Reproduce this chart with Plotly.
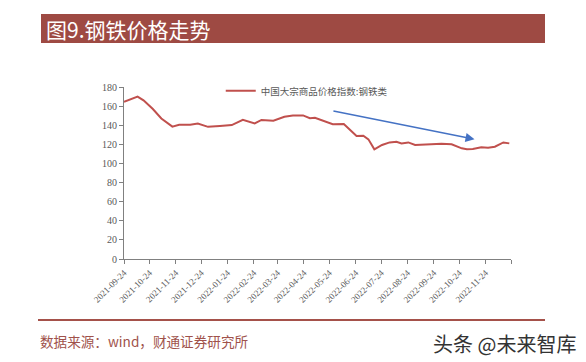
import plotly.graph_objects as go

dates = ["2021-09-24", "2021-10-10", "2021-10-17", "2021-10-28", "2021-11-07", "2021-11-20",
         "2021-11-28", "2021-12-11", "2021-12-20", "2022-01-01", "2022-01-15", "2022-01-29",
         "2022-02-11", "2022-02-25", "2022-03-05", "2022-03-19", "2022-04-01", "2022-04-11",
         "2022-04-23", "2022-05-01", "2022-05-07", "2022-05-19", "2022-05-28", "2022-06-10",
         "2022-06-25", "2022-07-03", "2022-07-09", "2022-07-16", "2022-07-25", "2022-08-03",
         "2022-08-11", "2022-08-17", "2022-08-25", "2022-09-02", "2022-09-11", "2022-09-21",
         "2022-10-03", "2022-10-15", "2022-10-27", "2022-11-02", "2022-11-09", "2022-11-19",
         "2022-11-27", "2022-12-05", "2022-12-15", "2022-12-22"]
values = [164.5, 170.0, 166.0, 157.0, 147.0, 138.5,
          140.5, 140.5, 141.8, 138.3, 139.2, 140.2,
          145.7, 141.8, 145.5, 144.8, 148.8, 150.2,
          150.3, 147.3, 147.8, 143.8, 141.0, 141.2,
          128.8, 129.0, 125.2, 114.8, 119.3, 122.0,
          122.7, 121.0, 122.0, 119.3, 120.0, 120.0,
          120.6, 120.0, 115.8, 114.8, 115.1, 116.9,
          116.5, 117.5, 122.0, 121.0]
tick_dates = ["2021-09-24", "2021-10-24", "2021-11-24", "2021-12-24", "2022-01-24", "2022-02-24",
              "2022-03-24", "2022-04-24", "2022-05-24", "2022-06-24", "2022-07-24", "2022-08-24",
              "2022-09-24", "2022-10-24", "2022-11-24", "2022-12-24"]
tick_labels = [d for d in tick_dates[:-1]] + [""]
y_ticks = [0, 20, 40, 60, 80, 100, 120, 140, 160, 180]
series_name = "中国大宗商品价格指数:钢铁类"
arrow_start = ("2022-05-27", 155.2)
arrow_end = ("2022-11-11", 125.3)

title_text = "图9.钢铁价格走势"
source_text = "数据来源：wind，财通证券研究所"
watermark = "头条 @未来智库"

serif = "Liberation Serif, Times New Roman, serif"
cjk = "Noto Sans CJK SC"

fig = go.Figure()
fig.add_trace(go.Scatter(x=dates, y=values, mode="lines", name=series_name,
                         line=dict(color="#C0504D", width=2)))

fig.update_layout(
    width=586, height=362,
    margin=dict(l=124, r=75, t=87, b=103),
    paper_bgcolor="white", plot_bgcolor="white",
    showlegend=True,
    legend=dict(x=0.25, y=0.978, xanchor="left", yanchor="middle", xref="paper", yref="paper",
                bgcolor="rgba(0,0,0,0)", font=dict(family=cjk, size=9.5, color="#595959"),
                itemwidth=30),
    xaxis=dict(type="date", range=["2021-09-24", "2022-12-24"],
               tickmode="array", tickvals=tick_dates, ticktext=tick_labels,
               tickangle=-45, ticks="outside", ticklen=4, tickcolor="#808080",
               showline=True, linecolor="#808080", linewidth=1, showgrid=False, zeroline=False,
               tickfont=dict(family=serif, size=9, color="#595959")),
    yaxis=dict(range=[0, 180], tickmode="array", tickvals=y_ticks,
               ticks="outside", ticklen=4, tickcolor="#808080",
               showline=True, linecolor="#808080", linewidth=1, showgrid=False, zeroline=False,
               tickfont=dict(family=serif, size=10, color="#595959")),
)

# arrow
fig.add_annotation(x=arrow_end[0], y=arrow_end[1], ax=arrow_start[0], ay=arrow_start[1],
                   xref="x", yref="y", axref="x", ayref="y", text="", showarrow=True,
                   arrowhead=2, arrowsize=1.2, arrowwidth=1.5, arrowcolor="#4472C4")

# title bar
fig.add_shape(type="rect", xref="paper", yref="paper",
              x0=(41 - 124) / 387, x1=(545 - 124) / 387,
              y0=(259 - 43) / 172, y1=(259 - 14) / 172,
              fillcolor="#9E4A43", line=dict(width=0), layer="below")
fig.add_annotation(text=title_text, xref="paper", yref="paper",
                   x=(44 - 124) / 387, y=(259 - 28.5) / 172, xanchor="left", yanchor="middle",
                   showarrow=False, font=dict(family=cjk, size=21, color="white"))

# bottom rule
fig.add_shape(type="line", xref="paper", yref="paper",
              x0=(38 - 124) / 387, x1=(545 - 124) / 387,
              y0=(259 - 320) / 172, y1=(259 - 320) / 172,
              line=dict(color="#A5514A", width=2))
fig.add_annotation(text=source_text, xref="paper", yref="paper",
                   x=(38 - 124) / 387, y=(259 - 341) / 172, xanchor="left", yanchor="middle",
                   showarrow=False, font=dict(family=cjk, size=13.6, color="#A0524B"))
fig.add_annotation(text=watermark, xref="paper", yref="paper",
                   x=(578 - 124) / 387, y=(259 - 343) / 172, xanchor="right", yanchor="middle",
                   showarrow=False, font=dict(family=cjk, size=20, color="#333333"))

fig.write_html("out.html", config={"displayModeBar": False},
               post_script="document.body.style.margin='0';document.body.style.overflow='hidden';")
